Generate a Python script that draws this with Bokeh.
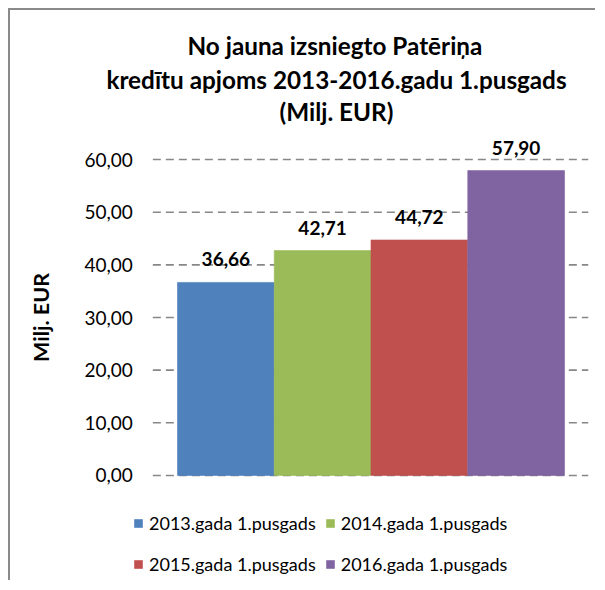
from bokeh.plotting import figure
from bokeh.models import ColumnDataSource, Range1d, FixedTicker, Legend, LegendItem, Title, Label
from bokeh.core.properties import value
from bokeh.embed import file_html
from bokeh.resources import INLINE

title_lines = ["No jauna izsniegto Patēriņa",
               "kredītu apjoms 2013-2016.gadu 1.pusgads",
               "(Milj. EUR)"]
series = ["2013.gada 1.pusgads", "2014.gada 1.pusgads",
          "2015.gada 1.pusgads", "2016.gada 1.pusgads"]
values = [36.66, 42.71, 44.72, 57.90]
colors = ["#4F81BD", "#9BBB59", "#C0504D", "#8064A2"]
y_ticks = [0, 10, 20, 30, 40, 50, 60]
y_tick_labels = ["0,00", "10,00", "20,00", "30,00", "40,00", "50,00", "60,00"]
y_label = "Milj. EUR"

FONT = "Lato"
pos = list(range(len(series)))            # one slot per series
bar_labels = [f"{v:.2f}".replace(".", ",") for v in values]
src = ColumnDataSource(dict(x=pos, value=values, color=colors, label=bar_labels))

# plot-area geometry in category slots
side_gap = 0.255                           # empty space between plot area edge and bars
area_left = -0.5 - side_gap
area_right = len(series) - 0.5 + 0.248
frame_x_start = -2.1434                    # frame extends left so texts are not clipped

p = figure(x_range=Range1d(frame_x_start, area_right),
           y_range=Range1d(-19, 79),
           frame_width=570, frame_height=516,
           min_border_left=8, min_border_right=7,
           min_border_top=49, min_border_bottom=5,
           x_axis_location=None,
           output_backend="svg", toolbar_location=None)
p.title.visible = False
p.outline_line_color = None
p.background_fill_color = "white"
p.border_fill_color = "white"
p.styles = {"border-left": "2px solid #8a8a8a", "border-top": "2px solid #8a8a8a",
            "margin-left": "8px", "margin-top": "8px"}

p.xgrid.visible = False
p.ygrid.visible = False
p.segment(x0=[area_left] * len(y_ticks), x1=[area_right] * len(y_ticks),
          y0=y_ticks, y1=y_ticks, line_color="#878787", line_width=1.6, line_dash="8 5")

ax = p.yaxis[0]
ax.fixed_location = area_left
ax.ticker = FixedTicker(ticks=y_ticks)
ax.bounds = (y_ticks[0], y_ticks[-1])
ax.major_label_overrides = {t: s for t, s in zip(y_ticks, y_tick_labels)}
ax.axis_line_color = None
ax.major_tick_line_color = None
ax.minor_tick_line_color = None
ax.major_tick_out = 0
ax.major_tick_in = 0
ax.major_label_standoff = 20
ax.major_label_text_font = FONT
ax.major_label_text_font_size = "19px"
ax.major_label_text_color = "black"
ax.axis_label = y_label
ax.axis_label_text_font = FONT
ax.axis_label_text_font_style = "bold"
ax.axis_label_text_font_size = "21.5px"
ax.axis_label_text_color = "black"
ax.axis_label_standoff = 27

bars = p.vbar(x="x", top="value", width=1.0, source=src,
              fill_color="color", line_color="color", line_width=0.6)

p.text(x="x", y="value", text="label", source=src,
       text_font=value(FONT), text_font_style="bold", text_font_size="19px",
       text_align="center", text_baseline="alphabetic", y_offset=-23,
       text_color="black")

leg1 = Legend(items=[LegendItem(label=series[i], renderers=[bars], index=i) for i in (0, 1)],
              location=(115, 41))
leg2 = Legend(items=[LegendItem(label=series[i], renderers=[bars], index=i) for i in (2, 3)],
              location=(115, 0))
for lg in (leg1, leg2):
    lg.orientation = "horizontal"
    lg.padding = 0
    lg.margin = 0
    lg.spacing = 9
    lg.glyph_width = 10
    lg.glyph_height = 10
    lg.label_standoff = 6
    lg.label_height = 20
    lg.label_text_font = FONT
    lg.label_text_font_size = "18px"
    lg.label_text_color = "black"
    lg.border_line_color = None
    lg.background_fill_alpha = 0
    p.add_layout(lg, "center")

p.add_layout(Title(text=title_lines[0], align="left", offset=169, standoff=0,
                   text_font=FONT, text_font_style="bold", text_font_size="24.3px",
                   text_color="black"), "above")
for txt, ty in zip(title_lines[1:], [496.5, 464]):
    p.add_layout(Label(x=318, y=ty, x_units="screen", y_units="screen", text=txt,
                       text_font=FONT, text_font_style="bold", text_font_size="24.3px",
                       text_align="center", text_baseline="middle", text_color="black"))

open("out.html", "w").write(file_html(p, INLINE))
